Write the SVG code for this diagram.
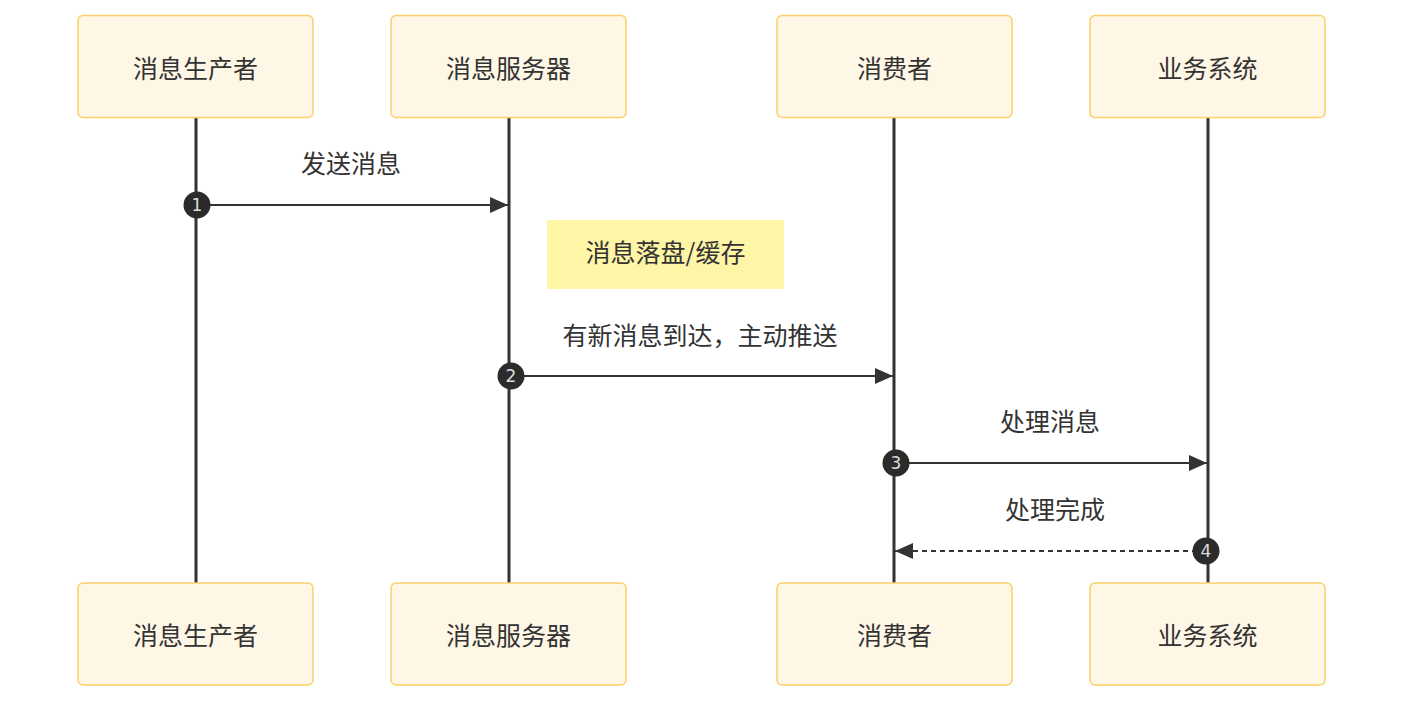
<svg xmlns="http://www.w3.org/2000/svg" width="1404" height="702" viewBox="0 0 1404 702">
<defs>
<style>
.actor{fill:#fff7e6;stroke:#fcd06a;stroke-width:1.5}
.t{font-family:"Noto Sans CJK SC","Noto Sans",sans-serif;font-size:25px;fill:#333;text-anchor:middle;dominant-baseline:central}
.life{stroke:#333;stroke-width:3;fill:none}
.msg{stroke:#333;stroke-width:2;fill:none}
.dash{stroke-dasharray:5,4}
.num{fill:#2b2b2b}
.nt{font-family:"DejaVu Sans",sans-serif;font-size:17px;fill:#ddd;text-anchor:middle;dominant-baseline:central}
</style>
<marker id="ah2" viewBox="0 0 18 16" refX="18" refY="8" markerWidth="18" markerHeight="16" markerUnits="userSpaceOnUse" orient="auto">
<path d="M0,0 L18,8 L0,16 z" fill="#333"/>
</marker>
</defs>
<rect width="1404" height="702" fill="#fff"/>
<g id="lifelines">
<line class="life" x1="196" y1="117" x2="196" y2="583"/>
<line class="life" x1="509" y1="117" x2="509" y2="583"/>
<line class="life" x1="894" y1="117" x2="894" y2="583"/>
<line class="life" x1="1208" y1="117" x2="1208" y2="583"/>
</g>
<g id="producer-top"><rect class="actor" x="78" y="15.5" width="235" height="102" rx="5"/><text class="t" x="195.5" y="67">消息生产者</text></g>
<g id="server-top"><rect class="actor" x="391" y="15.5" width="235" height="102" rx="5"/><text class="t" x="508.5" y="67">消息服务器</text></g>
<g id="consumer-top"><rect class="actor" x="777" y="15.5" width="235" height="102" rx="5"/><text class="t" x="894.5" y="67">消费者</text></g>
<g id="business-top"><rect class="actor" x="1090" y="15.5" width="235" height="102" rx="5"/><text class="t" x="1207.5" y="67">业务系统</text></g>
<g id="producer-bottom"><rect class="actor" x="78" y="583" width="235" height="102" rx="5"/><text class="t" x="195.5" y="634">消息生产者</text></g>
<g id="server-bottom"><rect class="actor" x="391" y="583" width="235" height="102" rx="5"/><text class="t" x="508.5" y="634">消息服务器</text></g>
<g id="consumer-bottom"><rect class="actor" x="777" y="583" width="235" height="102" rx="5"/><text class="t" x="894.5" y="634">消费者</text></g>
<g id="business-bottom"><rect class="actor" x="1090" y="583" width="235" height="102" rx="5"/><text class="t" x="1207.5" y="634">业务系统</text></g>
<g id="note"><rect x="547" y="220" width="237" height="69" fill="#fff5a6"/><text class="t" x="665.5" y="251">消息落盘/缓存</text></g>
<g id="connectors">
<line class="msg" x1="197" y1="205" x2="508" y2="205" marker-end="url(#ah2)"/>
<text class="t" x="351" y="162">发送消息</text>
<circle class="num" cx="197" cy="205" r="13.5"/><text class="nt" x="197" y="205">1</text>
<line class="msg" x1="511" y1="376" x2="893" y2="376" marker-end="url(#ah2)"/>
<text class="t" x="700" y="334">有新消息到达，主动推送</text>
<circle class="num" cx="511" cy="376" r="13.5"/><text class="nt" x="511" y="376">2</text>
<line class="msg" x1="896" y1="463" x2="1207" y2="463" marker-end="url(#ah2)"/>
<text class="t" x="1050" y="420">处理消息</text>
<circle class="num" cx="896" cy="463" r="13.5"/><text class="nt" x="896" y="463">3</text>
<line class="msg dash" x1="1206" y1="551" x2="895" y2="551" marker-end="url(#ah2)"/>
<text class="t" x="1055" y="508">处理完成</text>
<circle class="num" cx="1206" cy="551" r="13.5"/><text class="nt" x="1206" y="551">4</text>
</g>
</svg>
